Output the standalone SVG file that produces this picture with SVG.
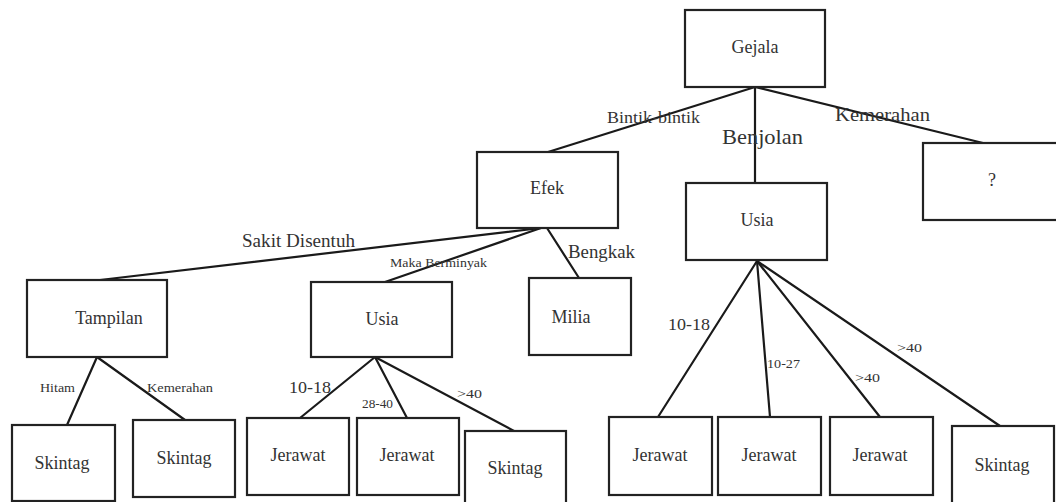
<svg xmlns="http://www.w3.org/2000/svg" width="1056" height="502" viewBox="0 0 1056 502">
<style>
.box{fill:#fff;stroke:#222;stroke-width:2.2}
.ln{stroke:#1a1a1a;stroke-width:2.2;fill:none;stroke-linecap:round}
.t{font-family:"Liberation Serif","Times New Roman",serif;fill:#333;text-anchor:middle;font-size:18px}
.l{font-family:"Liberation Serif","Times New Roman",serif;fill:#333}
</style>
<rect width="1056" height="502" fill="#fff"/>
<g id="connectors">
<line class="ln" x1="755" y1="87" x2="548" y2="152"/>
<line class="ln" x1="755" y1="87" x2="755" y2="183"/>
<line class="ln" x1="755" y1="87" x2="983" y2="143"/>
<line class="ln" x1="541" y1="228" x2="100" y2="280"/>
<line class="ln" x1="541" y1="228" x2="385" y2="282"/>
<line class="ln" x1="547" y1="228" x2="579" y2="278"/>
<line class="ln" x1="97" y1="357" x2="67" y2="425"/>
<line class="ln" x1="97" y1="357" x2="185" y2="420"/>
<line class="ln" x1="375" y1="357" x2="300" y2="418"/>
<line class="ln" x1="375" y1="357" x2="407" y2="418"/>
<line class="ln" x1="375" y1="357" x2="514" y2="431"/>
<line class="ln" x1="757" y1="261" x2="658" y2="417"/>
<line class="ln" x1="757" y1="261" x2="770" y2="417"/>
<line class="ln" x1="757" y1="261" x2="880" y2="417"/>
<line class="ln" x1="757" y1="261" x2="1000" y2="426"/>
<text class="l" x="607" y="123" font-size="17" textLength="93" lengthAdjust="spacingAndGlyphs">Bintik-bintik</text>
<text class="l" x="722" y="144" font-size="21" textLength="81" lengthAdjust="spacingAndGlyphs">Benjolan</text>
<text class="l" x="835" y="121" font-size="18" textLength="95" lengthAdjust="spacingAndGlyphs">Kemerahan</text>
<text class="l" x="242" y="247" font-size="18" textLength="113" lengthAdjust="spacingAndGlyphs">Sakit Disentuh</text>
<text class="l" x="390" y="267" font-size="12" textLength="97" lengthAdjust="spacingAndGlyphs">Maka Berminyak</text>
<text class="l" x="568" y="258" font-size="18" textLength="67" lengthAdjust="spacingAndGlyphs">Bengkak</text>
<text class="l" x="40" y="392" font-size="12" textLength="35" lengthAdjust="spacingAndGlyphs">Hitam</text>
<text class="l" x="147" y="392" font-size="12" textLength="66" lengthAdjust="spacingAndGlyphs">Kemerahan</text>
<text class="l" x="289" y="393" font-size="17" textLength="42" lengthAdjust="spacingAndGlyphs">10-18</text>
<text class="l" x="362" y="408" font-size="12" textLength="31" lengthAdjust="spacingAndGlyphs">28-40</text>
<text class="l" x="457" y="398" font-size="13" textLength="25" lengthAdjust="spacingAndGlyphs">&gt;40</text>
<text class="l" x="668" y="330" font-size="17" textLength="42" lengthAdjust="spacingAndGlyphs">10-18</text>
<text class="l" x="767" y="368" font-size="12" textLength="33" lengthAdjust="spacingAndGlyphs">10-27</text>
<text class="l" x="855" y="382" font-size="13" textLength="25" lengthAdjust="spacingAndGlyphs">&gt;40</text>
<text class="l" x="897" y="352" font-size="13" textLength="25" lengthAdjust="spacingAndGlyphs">&gt;40</text>
</g>
<g id="gejala"><rect class="box" x="685" y="10" width="140" height="77"/><text class="t" x="755" y="53">Gejala</text></g>
<g id="efek"><rect class="box" x="477" y="152" width="141" height="76"/><text class="t" x="547" y="194">Efek</text></g>
<g id="usia-right"><rect class="box" x="686" y="183" width="141" height="77"/><text class="t" x="757" y="226">Usia</text></g>
<g id="unknown"><rect class="box" x="923" y="143" width="140" height="77"/><text class="t" x="992" y="186">?</text></g>
<g id="tampilan"><rect class="box" x="27" y="280" width="140" height="77"/><text class="t" x="109" y="324">Tampilan</text></g>
<g id="usia-mid"><rect class="box" x="311" y="282" width="141" height="75"/><text class="t" x="382" y="325">Usia</text></g>
<g id="milia"><rect class="box" x="529" y="278" width="102" height="77"/><text class="t" x="571" y="323">Milia</text></g>
<g id="skintag1"><rect class="box" x="12" y="425" width="103" height="76"/><text class="t" x="62" y="469">Skintag</text></g>
<g id="skintag2"><rect class="box" x="133" y="420" width="102" height="77"/><text class="t" x="184" y="464">Skintag</text></g>
<g id="jerawat1"><rect class="box" x="247" y="418" width="102" height="77"/><text class="t" x="298" y="461">Jerawat</text></g>
<g id="jerawat2"><rect class="box" x="357" y="418" width="102" height="77"/><text class="t" x="407" y="461">Jerawat</text></g>
<g id="skintag3"><rect class="box" x="465" y="431" width="101" height="75"/><text class="t" x="515" y="474">Skintag</text></g>
<g id="jerawat3"><rect class="box" x="609" y="417" width="103" height="78"/><text class="t" x="660" y="461">Jerawat</text></g>
<g id="jerawat4"><rect class="box" x="718" y="417" width="103" height="78"/><text class="t" x="769" y="461">Jerawat</text></g>
<g id="jerawat5"><rect class="box" x="830" y="417" width="103" height="78"/><text class="t" x="880" y="461">Jerawat</text></g>
<g id="skintag4"><rect class="box" x="952" y="426" width="102" height="80"/><text class="t" x="1002" y="471">Skintag</text></g>
</svg>
